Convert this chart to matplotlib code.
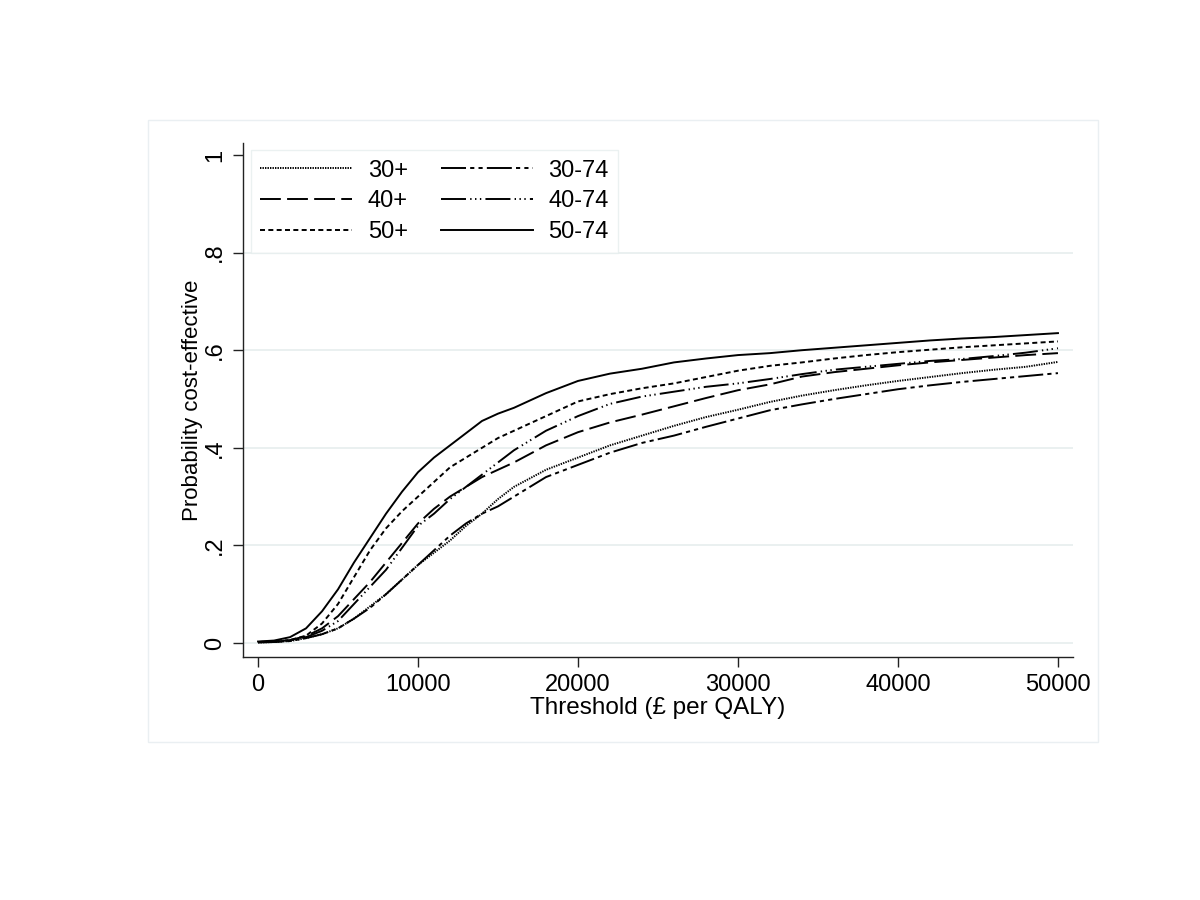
import numpy as np
import matplotlib.pyplot as plt
from matplotlib.patches import Rectangle

plt.rcParams['font.family'] = ['Liberation Sans', 'DejaVu Sans']
plt.rcParams['lines.scale_dashes'] = False

# Seuils (£ par QALY)
thresholds = [0, 1000, 2000, 3000, 4000, 5000, 6000, 7000, 8000, 9000, 10000,
              11000, 12000, 13000, 14000, 15000, 16000, 18000, 20000, 22000,
              24000, 26000, 28000, 30000, 32000, 34000, 36000, 38000, 40000,
              42000, 44000, 46000, 48000, 50000]

# Probabilités coût-efficaces par groupe d'âge
p_30plus = [0.001, 0.002, 0.004, 0.010, 0.018, 0.030, 0.050, 0.075, 0.100, 0.130, 0.160,
            0.185, 0.210, 0.240, 0.265, 0.295, 0.320, 0.355, 0.380, 0.405,
            0.425, 0.445, 0.463, 0.478, 0.494, 0.507, 0.518, 0.528, 0.537,
            0.545, 0.553, 0.560, 0.566, 0.576]
p_40plus = [0.002, 0.003, 0.006, 0.014, 0.030, 0.055, 0.090, 0.125, 0.165, 0.205, 0.245,
            0.275, 0.300, 0.320, 0.340, 0.355, 0.370, 0.405, 0.432, 0.452,
            0.468, 0.485, 0.502, 0.518, 0.530, 0.546, 0.555, 0.562, 0.569,
            0.575, 0.580, 0.585, 0.590, 0.594]
p_50plus = [0.002, 0.003, 0.006, 0.015, 0.040, 0.080, 0.135, 0.190, 0.235, 0.270, 0.300,
            0.330, 0.360, 0.380, 0.400, 0.420, 0.435, 0.465, 0.495, 0.510,
            0.522, 0.532, 0.545, 0.558, 0.568, 0.575, 0.583, 0.590, 0.596,
            0.601, 0.606, 0.610, 0.614, 0.618]
p_30_74 = [0.001, 0.002, 0.004, 0.010, 0.018, 0.030, 0.050, 0.072, 0.100, 0.130, 0.160,
           0.190, 0.220, 0.245, 0.265, 0.280, 0.300, 0.340, 0.365, 0.390,
           0.410, 0.425, 0.443, 0.460, 0.477, 0.489, 0.500, 0.510, 0.520,
           0.528, 0.535, 0.541, 0.547, 0.553]
p_40_74 = [0.002, 0.003, 0.005, 0.012, 0.025, 0.045, 0.080, 0.115, 0.150, 0.195, 0.240,
           0.265, 0.295, 0.320, 0.345, 0.370, 0.395, 0.435, 0.465, 0.490,
           0.505, 0.515, 0.525, 0.532, 0.541, 0.551, 0.560, 0.566, 0.572,
           0.578, 0.582, 0.588, 0.595, 0.604]
p_50_74 = [0.003, 0.005, 0.012, 0.030, 0.065, 0.110, 0.165, 0.215, 0.265, 0.310, 0.350,
           0.380, 0.405, 0.430, 0.455, 0.470, 0.482, 0.512, 0.537, 0.552,
           0.562, 0.575, 0.583, 0.590, 0.594, 0.600, 0.605, 0.610, 0.615,
           0.620, 0.624, 0.627, 0.631, 0.635]

series = [
    ("30+", p_30plus, (0, (1.0, 0.8))),
    ("40+", p_40plus, (0, (15, 4.5))),
    ("50+", p_50plus, (0, (3.6, 2.4))),
    ("30-74", p_30_74, (0, (18, 3, 3, 3, 3, 3))),
    ("40-74", p_40_74, (0, (18, 3, 1, 2.5, 1, 2.5, 1, 3))),
    ("50-74", p_50_74, '-'),
]

yticks = [0, 0.2, 0.4, 0.6, 0.8, 1]
ytick_labels = ["0", ".2", ".4", ".6", ".8", "1"]
xticks = [0, 10000, 20000, 30000, 40000, 50000]

fig = plt.figure(figsize=(12, 9), dpi=100)
fig.patches.append(Rectangle((148 / 1200, 1 - 742 / 900), 950 / 1200, 622 / 900,
                             transform=fig.transFigure, fill=False,
                             edgecolor='#eaeff2', lw=1))
ax = fig.add_axes([243 / 1200, 1 - 657 / 900, 830 / 1200, 514 / 900])

for y in yticks[:-1]:
    ax.axhline(y, color='#e6eeee', lw=1.2, zorder=0)

for lab, vals, ls in series:
    ax.plot(thresholds, vals, color='black', lw=1.4, linestyle=ls, label=lab)

ax.set_xlim(-940, 50940)
ax.set_ylim(-0.0287, 1.0246)
ax.set_xticks(xticks)
ax.set_yticks(yticks)
ax.set_yticklabels(ytick_labels, rotation=90, va='center')
ax.tick_params(axis='both', direction='out', length=7, width=1, labelsize=17,
               color='#222222', pad=5)
for s in ['top', 'right']:
    ax.spines[s].set_visible(False)
for s in ['left', 'bottom']:
    ax.spines[s].set_linewidth(1)
    ax.spines[s].set_color('#222222')

ax.set_xlabel("Threshold (£ per QALY)", fontsize=17.5, labelpad=1)
ax.set_ylabel("Probability cost-effective", fontsize=16, labelpad=1)

leg = ax.legend(ncol=2, loc='upper left', bbox_to_anchor=(0.0096, 0.986),
                borderaxespad=0, fontsize=17, frameon=True, fancybox=False,
                handlelength=3.9, columnspacing=1.4, labelspacing=0.37,
                borderpad=0.4, handletextpad=0.65)
leg.get_frame().set_edgecolor('#e6eeee')
leg.get_frame().set_linewidth(1)

fig.savefig("out.png", dpi=100)
